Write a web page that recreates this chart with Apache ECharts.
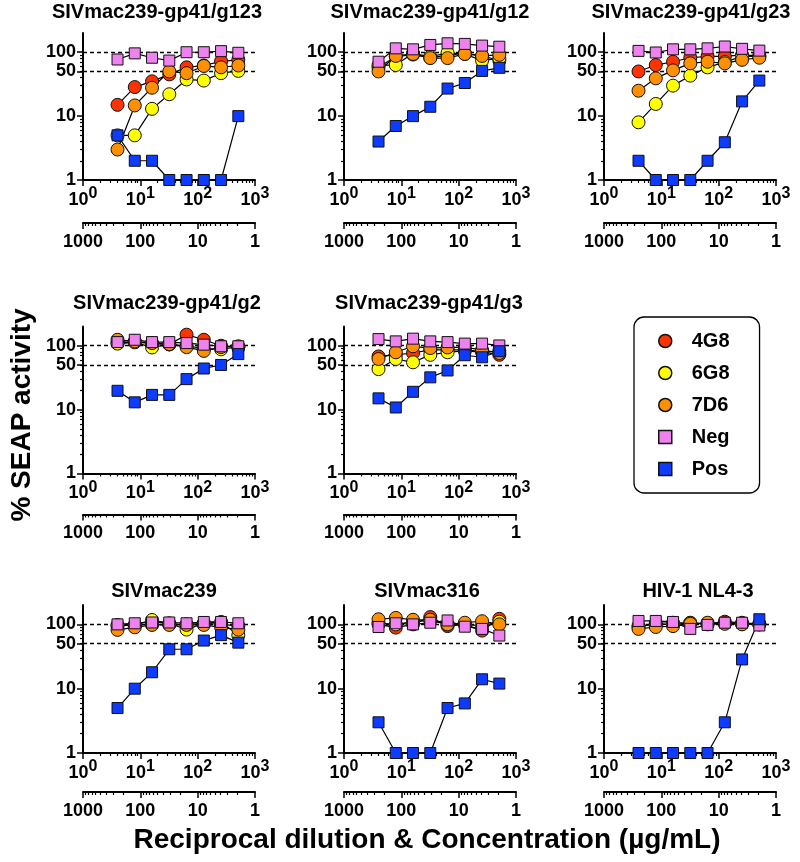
<!DOCTYPE html>
<html><head><meta charset="utf-8">
<script src="https://cdn.jsdelivr.net/npm/echarts@6.0.0/dist/echarts.min.js"></script>
<style>html,body{margin:0;padding:0;background:#fff}#c{width:800px;height:862px}</style>
</head><body><div id="c"></div>
<script>
// ---------------- DATA ----------------
const dilutions = [4, 8, 16, 32, 64, 128, 256, 512];
const seriesNames = ['4G8', '6G8', '7D6', 'Neg', 'Pos'];
const panelTitles = ['SIVmac239-gp41/g123', 'SIVmac239-gp41/g12', 'SIVmac239-gp41/g23',
  'SIVmac239-gp41/g2', 'SIVmac239-gp41/g3', 'SIVmac239', 'SIVmac316', 'HIV-1 NL4-3'];
const dilutionTicks = [1, 10, 100, 1000];
const concentrationTicks = [1, 10, 100, 1000];
const yTickLabels = [1, 10, 50, 100];
const refLines = [100, 50];
const yAxisTitle = '% SEAP activity';
const xAxisTitle = 'Reciprocal dilution & Concentration (µg/mL)';

const g123_4G8 = [15, 28.5, 35, 45, 58, 62, 72, 76];
const g123_6G8 = [5, 5, 13, 22, 37.5, 36, 47, 51];
const g123_7D6 = [3, 14.7, 27.8, 50, 47, 61, 58, 62];
const g123_Neg = [77, 96, 82, 74, 100, 100, 104, 98];
const g123_Pos = [5, 2, 2, 1, 1, 1, 1, 10];

const g12_4G8 = [58, 85, 92, 82, 90, 96, 88, 74];
const g12_6G8 = [63, 63, 96, 85, 98, 94, 74, 80];
const g12_7D6 = [50, 87.5, 94, 81, 81, 94, 87.5, 91];
const g12_Neg = [71, 115, 111, 130, 138, 135, 127, 122];
const g12_Pos = [4, 7, 10, 14, 27, 33, 51, 57];

const g23_4G8 = [50, 63, 71, 82, 86, 86, 91, 88];
const g23_6G8 = [8, 15.5, 30, 43, 58, 70, 86, 86];
const g23_7D6 = [25, 39, 52, 67, 71, 67, 76, 82];
const g23_Neg = [105, 99, 111, 111, 115, 123, 113, 106];
const g23_Pos = [2, 1, 1, 1, 2, 3.9, 17, 36];

const g2_4G8 = [110, 115, 108, 105, 149, 124, 100, 95];
const g2_6G8 = [108, 113, 94, 105, 100, 90, 88, 96];
const g2_7D6 = [124, 117, 110, 106, 95, 83, 95, 98];
const g2_Neg = [114, 124, 114, 114, 110, 104, 98, 98];
const g2_Pos = [19.7, 13, 17, 17, 30, 44, 50, 74];

const g3_4G8 = [68, 72, 77, 86, 86, 86, 81, 72];
const g3_6G8 = [43, 62, 55, 72, 79, 83, 79, 83];
const g3_7D6 = [62, 79, 98, 92, 94, 94, 86, 77];
const g3_Neg = [127, 117, 129, 117, 114, 108, 108, 101];
const g3_Pos = [15, 10.8, 19, 32, 41, 71, 66, 82];

const mac239_4G8 = [95, 98, 100, 100, 100, 104, 100, 95];
const mac239_6G8 = [98, 98, 117, 104, 83, 104, 109, 68];
const mac239_7D6 = [82, 90, 98, 98, 98, 98, 90, 83];
const mac239_Neg = [100, 104, 107, 107, 104, 109, 109, 104];
const mac239_Pos = [5, 10, 18, 41, 41, 56, 68, 52];

const mac316_4G8 = [100, 89, 100, 130, 94, 100, 80, 122];
const mac316_6G8 = [105, 100, 110, 115, 100, 100, 95, 110];
const mac316_7D6 = [120, 126, 118, 118, 100, 106, 112, 100];
const mac316_Neg = [91, 104, 100, 106, 115, 92, 85, 67];
const mac316_Pos = [3, 1, 1, 1, 5, 5.9, 14, 12];

const nl43_4G8 = [91, 104, 106, 106, 102, 110, 106, 102];
const nl43_6G8 = [95, 100, 100, 105, 100, 104, 102, 100];
const nl43_7D6 = [85, 91, 94, 102, 106, 102, 100, 100];
const nl43_Neg = [113, 113, 109, 85, 98, 106, 106, 96];
const nl43_Pos = [1, 1, 1, 1, 1, 3, 28.5, 120];

const panelData = [
  [g123_4G8, g123_6G8, g123_7D6, g123_Neg, g123_Pos],
  [g12_4G8, g12_6G8, g12_7D6, g12_Neg, g12_Pos],
  [g23_4G8, g23_6G8, g23_7D6, g23_Neg, g23_Pos],
  [g2_4G8, g2_6G8, g2_7D6, g2_Neg, g2_Pos],
  [g3_4G8, g3_6G8, g3_7D6, g3_Neg, g3_Pos],
  [mac239_4G8, mac239_6G8, mac239_7D6, mac239_Neg, mac239_Pos],
  [mac316_4G8, mac316_6G8, mac316_7D6, mac316_Neg, mac316_Pos],
  [nl43_4G8, nl43_6G8, nl43_7D6, nl43_Neg, nl43_Pos]
];

// ---------------- LAYOUT / STYLE ----------------
const FONT = '"Liberation Sans", Arial, Helvetica, sans-serif';
const colLeft = [83, 344, 604];
const colW = 172;
const rowTop = [33, 326.5, 605];
const rowH = [147, 147, 148];
const concOffset = [43, 41, 39];
const panelCells = [[0,0],[0,1],[0,2],[1,0],[1,1],[2,0],[2,1],[2,2]];
const titlePos = [[157,12.5],[430,12.5],[691,12.5],[167,303.5],[429,303.5],[164,591],[427,591],[698,591]];
const seriesStyle = {
  '4G8': {symbol: 'circle', size: 13, color: '#FF3300'},
  '6G8': {symbol: 'circle', size: 13, color: '#FFFF00'},
  '7D6': {symbol: 'circle', size: 13, color: '#FF9000'},
  'Neg': {symbol: 'rect', size: 11, color: '#EE82EE'},
  'Pos': {symbol: 'rect', size: 11, color: '#0D3BFF'}
};

function minorVals(maxV) {
  const out = [];
  for (let d = 1; d < maxV; d *= 10) for (let k = 2; k <= 9; k++) if (d * k < maxV) out.push(d * k);
  return out;
}
const Y_MAX = 200;
const lbl = {color: '#000', fontWeight: 'bold', fontSize: 18, fontFamily: FONT};

const grid = [], xAxis = [], yAxis = [], series = [], graphic = [];

panelData.forEach((sets, i) => {
  const [r, c] = panelCells[i];
  grid.push({left: colLeft[c], top: rowTop[r], width: colW, height: rowH[r], containLabel: false, outerBoundsMode: 'none'});
  const xi = xAxis.length;
  const baseX = {type: 'log', logBase: 10, min: 1, max: 1000, gridIndex: i, position: 'bottom', splitLine: {show: false}, minorTick: {show: false}};
  // primary dilution axis
  xAxis.push(Object.assign({}, baseX, {
    axisLine: {show: true, lineStyle: {color: '#000', width: 2}},
    axisTick: {show: true, length: 6, lineStyle: {color: '#000', width: 1.5}, customValues: dilutionTicks},
    axisLabel: {show: true, customValues: dilutionTicks, margin: 6,
      formatter: v => '{b|10}{s|' + Math.round(Math.log10(v)) + '}',
      rich: {
        b: Object.assign({}, lbl, {lineHeight: 28}),
        s: Object.assign({}, lbl, {fontSize: 16, lineHeight: 16, verticalAlign: 'top'})
      }}
  }));
  xAxis.push(Object.assign({}, baseX, {
    axisLine: {show: false}, axisLabel: {show: false},
    axisTick: {show: true, length: 3, lineStyle: {color: '#000', width: 1.2}, customValues: minorVals(1000)}
  }));
  // secondary concentration axis (reversed)
  xAxis.push(Object.assign({}, baseX, {
    inverse: true, offset: concOffset[r],
    axisLine: {show: true, lineStyle: {color: '#000', width: 2}},
    axisTick: {show: true, length: 6, lineStyle: {color: '#000', width: 1.5}, customValues: concentrationTicks},
    axisLabel: Object.assign({show: true, customValues: concentrationTicks, margin: 9, lineHeight: 20,
      formatter: v => String(Math.round(v))}, lbl)
  }));
  xAxis.push(Object.assign({}, baseX, {
    inverse: true, offset: concOffset[r],
    axisLine: {show: false}, axisLabel: {show: false},
    axisTick: {show: true, length: 3, lineStyle: {color: '#000', width: 1.2}, customValues: minorVals(1000)}
  }));
  const yi = yAxis.length;
  const baseY = {type: 'log', logBase: 10, min: 1, max: Y_MAX, gridIndex: i, position: 'left', splitLine: {show: false}, minorTick: {show: false}};
  yAxis.push(Object.assign({}, baseY, {
    axisLine: {show: true, lineStyle: {color: '#000', width: 2}},
    axisTick: {show: true, length: 6, lineStyle: {color: '#000', width: 1.5}, customValues: yTickLabels},
    axisLabel: Object.assign({show: true, customValues: yTickLabels, margin: 7,
      formatter: v => String(Math.round(v))}, lbl)
  }));
  yAxis.push(Object.assign({}, baseY, {
    axisLine: {show: false}, axisLabel: {show: false},
    axisTick: {show: true, length: 3, lineStyle: {color: '#000', width: 1.2}, customValues: minorVals(Y_MAX)}
  }));

  sets.forEach((vals, s) => {
    const name = seriesNames[s];
    const st = seriesStyle[name];
    const ser = {
      type: 'line', name: name, xAxisIndex: xi, yAxisIndex: yi,
      data: dilutions.map((d, k) => [d, vals[k]]),
      symbol: st.symbol, symbolSize: st.size, showSymbol: true, clip: false,
      itemStyle: {color: st.color, borderColor: '#111', borderWidth: 1},
      lineStyle: {color: '#000', width: 1.2},
      emphasis: {disabled: true}, animation: false, silent: true
    };
    if (s === 0) {
      ser.markLine = {silent: true, z: 1, symbol: ['none', 'none'], label: {show: false},
        lineStyle: {type: [4, 3], color: '#000', width: 1.3},
        emphasis: {disabled: true},
        data: refLines.map(v => ({yAxis: v}))};
    }
    series.push(ser);
  });

  graphic.push({type: 'text', x: titlePos[i][0], y: titlePos[i][1],
    style: {text: panelTitles[i], font: 'bold 20px ' + FONT, fill: '#000', textAlign: 'center', textVerticalAlign: 'middle'}});
});

graphic.push({type: 'text', x: 22, y: 415, rotation: Math.PI / 2,
  style: {text: yAxisTitle, font: 'bold 28px ' + FONT, fill: '#000', textAlign: 'center', textVerticalAlign: 'middle'}});
graphic.push({type: 'text', x: 427, y: 840,
  style: {text: xAxisTitle, font: 'bold 28px ' + FONT, fill: '#000', textAlign: 'center', textVerticalAlign: 'middle'}});

const legendData = seriesNames.map(n => ({
  name: n, icon: seriesStyle[n].symbol,
  itemStyle: {color: seriesStyle[n].color, borderColor: '#111', borderWidth: 1.5}
}));

const chart = echarts.init(document.getElementById('c'), null, {renderer: 'canvas', width: 800, height: 862});
chart.setOption({
  backgroundColor: '#fff',
  animation: false,
  grid, xAxis, yAxis, series, graphic,
  legend: {
    orient: 'vertical', left: 634, top: 317, padding: [14, 30, 14, 24],
    itemWidth: 13, itemHeight: 13, itemGap: 12,
    borderColor: '#000', borderWidth: 1.3, borderRadius: 10,
    selectedMode: false,
    textStyle: {color: '#000', fontSize: 20, fontWeight: 'bold', fontFamily: FONT, lineHeight: 20, padding: [0, 0, 0, 15]},
    data: legendData
  }
});
</script>
</body></html>
